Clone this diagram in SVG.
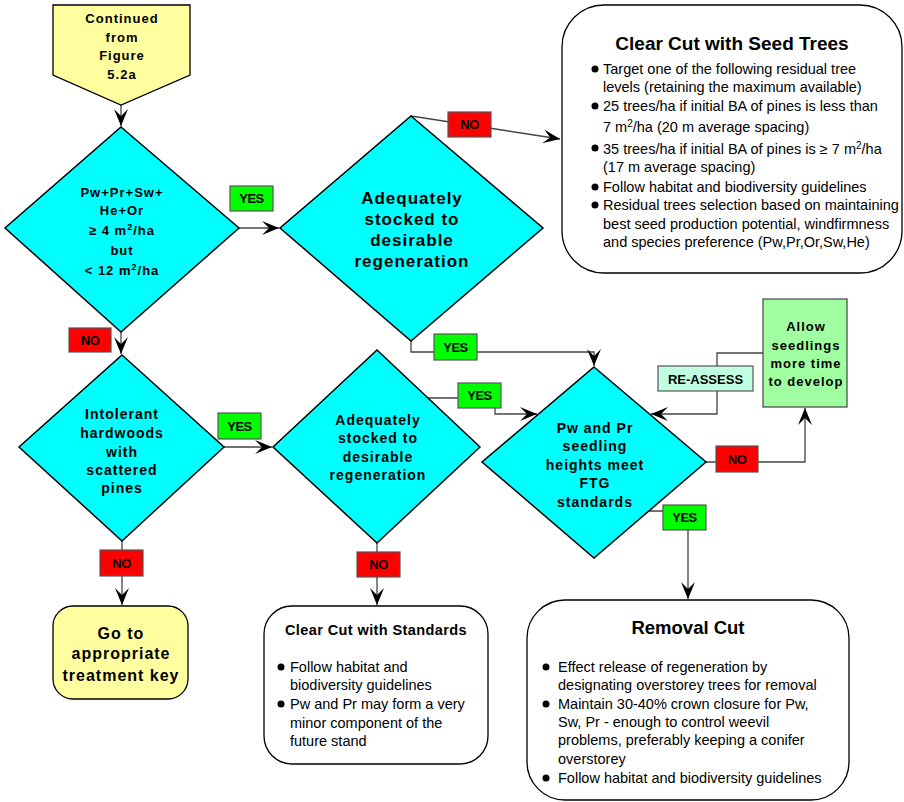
<svg xmlns="http://www.w3.org/2000/svg" width="904" height="802" viewBox="0 0 904 802">
  <defs>
    <marker id="arrow" markerUnits="userSpaceOnUse" markerWidth="20" markerHeight="18" viewBox="-19 -9 20 18" refX="0" refY="0" orient="auto">
      <path d="M0,0 L-17,-7 L-10,0 L-17,7 Z" fill="#000"/>
    </marker>
  </defs>
  <style>
    text { font-family: "Liberation Sans", Arial, sans-serif; fill: #000; }
    .dia { fill: #00FFFF; stroke: #000; stroke-width: 1.5; }
    .start { fill: #FFFFA0; stroke: #000; stroke-width: 1.3; }
    .box { fill: #FFFFFF; stroke: #000; stroke-width: 1.3; }
    .conn path { fill: none; stroke: #444; stroke-width: 1.3; }
    .yes { fill: #00FF00; stroke: #555; stroke-width: 1.2; }
    .no { fill: #FF0000; stroke: #555; stroke-width: 1.2; }
    .lbl { font-size: 13px; font-weight: bold; text-anchor: middle; letter-spacing: -0.5px; }
    .dt { font-weight: bold; text-anchor: middle; letter-spacing: 1px; }
    .title { font-weight: bold; text-anchor: middle; }
    .body { font-size: 14.5px; }
  </style>

  <!-- connectors -->
  <g id="connectors" class="conn">
    <path d="M121,105 L121,126" marker-end="url(#arrow)"/>
    <path d="M239,228 L279,228" marker-end="url(#arrow)"/>
    <path d="M411,116 L560,139" marker-end="url(#arrow)"/>
    <path d="M121,332 L121,354" marker-end="url(#arrow)"/>
    <path d="M224,447 L272,447" marker-end="url(#arrow)"/>
    <path d="M411,341 L411,352 L594,352 L594,366" marker-end="url(#arrow)"/>
    <path d="M428,398 L495,398 L495,414 L537,414" marker-end="url(#arrow)"/>
    <path d="M763,353 L717,353 L717,414 L651,414" marker-end="url(#arrow)"/>
    <path d="M706,462 L805,462 L805,408" marker-end="url(#arrow)"/>
    <path d="M649,511 L688,511 L688,599" marker-end="url(#arrow)"/>
    <path d="M122,541 L122,605" marker-end="url(#arrow)"/>
    <path d="M377,543 L377,605" marker-end="url(#arrow)"/>
  </g>

  <!-- start: continued from previous figure -->
  <g id="start">
    <polygon class="start" points="53,5 190,5 190,75 121,105 53,75"/>
    <text class="dt" font-size="13" x="122" y="23">Continued</text>
    <text class="dt" font-size="13" x="122" y="42">from</text>
    <text class="dt" font-size="13" x="122" y="60">Figure</text>
    <text class="dt" font-size="13" x="122" y="79">5.2a</text>
  </g>

  <!-- decision: basal area -->
  <g id="d-basal-area">
    <polygon class="dia" points="121,127 239,228 121,332 5,228"/>
    <text class="dt" font-size="13" letter-spacing="0.3" x="122" y="197">Pw+Pr+Sw+</text>
    <text class="dt" font-size="13" letter-spacing="0.3" x="122" y="215">He+Or</text>
    <text class="dt" font-size="13" letter-spacing="0.3" x="122" y="235">≥ 4 m<tspan font-size="9" dy="-5">2</tspan><tspan dy="5">/ha</tspan></text>
    <text class="dt" font-size="13" letter-spacing="0.3" x="122" y="255">but</text>
    <text class="dt" font-size="13" letter-spacing="0.3" x="122" y="275">&lt; 12 m<tspan font-size="9" dy="-5">2</tspan><tspan dy="5">/ha</tspan></text>
  </g>

  <!-- decision: stocking (upper) -->
  <g id="d-stocked-upper">
    <polygon class="dia" points="411,116 543,228 411,341 280,228"/>
    <text class="dt" font-size="17" x="412" y="204">Adequately</text>
    <text class="dt" font-size="17" x="412" y="225">stocked to</text>
    <text class="dt" font-size="17" x="412" y="246">desirable</text>
    <text class="dt" font-size="17" x="412" y="267">regeneration</text>
  </g>

  <!-- decision: intolerant hardwoods -->
  <g id="d-intolerant">
    <polygon class="dia" points="122,355 224,447 122,541 19,447"/>
    <text class="dt" font-size="14" x="122" y="419">Intolerant</text>
    <text class="dt" font-size="14" x="122" y="438">hardwoods</text>
    <text class="dt" font-size="14" x="122" y="457">with</text>
    <text class="dt" font-size="14" x="122" y="475">scattered</text>
    <text class="dt" font-size="14" x="122" y="493">pines</text>
  </g>

  <!-- decision: stocking (lower) -->
  <g id="d-stocked-lower">
    <polygon class="dia" points="377,350 480,447 377,543 273,447"/>
    <text class="dt" font-size="14" x="378" y="425">Adequately</text>
    <text class="dt" font-size="14" x="378" y="443">stocked to</text>
    <text class="dt" font-size="14" x="378" y="462">desirable</text>
    <text class="dt" font-size="14" x="378" y="480">regeneration</text>
  </g>

  <!-- decision: seedling heights -->
  <g id="d-heights">
    <polygon class="dia" points="594,367 706,462 594,558 482,462"/>
    <text class="dt" font-size="14" x="595" y="433">Pw and Pr</text>
    <text class="dt" font-size="14" x="595" y="451">seedling</text>
    <text class="dt" font-size="14" x="595" y="470">heights meet</text>
    <text class="dt" font-size="14" x="595" y="488">FTG</text>
    <text class="dt" font-size="14" x="595" y="507">standards</text>
  </g>

  <!-- outcome: clear cut with seed trees -->
  <g id="clear-cut-seed-trees">
    <rect class="box" x="562" y="5" width="340" height="268" rx="42" ry="42"/>
    <text class="title" font-size="19" x="732" y="50">Clear Cut with Seed Trees</text>
    <g class="body">
      <circle cx="595" cy="69" r="3.5"/>
      <text x="603" y="74">Target one of the following residual tree</text>
      <text x="603" y="92">levels (retaining the maximum available)</text>
      <circle cx="595" cy="106" r="3.5"/>
      <text x="603" y="111">25 trees/ha if initial BA of pines is less than</text>
      <text x="603" y="132">7 m<tspan font-size="10" dy="-5">2</tspan><tspan dy="5">/ha (20 m average spacing)</tspan></text>
      <circle cx="595" cy="148" r="3.5"/>
      <text x="603" y="154">35 trees/ha if initial BA of pines is ≥ 7 m<tspan font-size="10" dy="-5">2</tspan><tspan dy="5">/ha</tspan></text>
      <text x="603" y="172">(17 m average spacing)</text>
      <circle cx="595" cy="187" r="3.5"/>
      <text x="603" y="192">Follow habitat and biodiversity guidelines</text>
      <circle cx="595" cy="205" r="3.5"/>
      <text x="603" y="210">Residual trees selection based on maintaining</text>
      <text x="603" y="229">best  seed production potential, windfirmness</text>
      <text x="603" y="247">and species preference (Pw,Pr,Or,Sw,He)</text>
    </g>
  </g>

  <!-- outcome: allow more time -->
  <g id="allow-time">
    <rect x="763" y="299" width="84" height="108" fill="#A0FFA0" stroke="#444" stroke-width="1.2"/>
    <text class="dt" font-size="13" x="806" y="331">Allow</text>
    <text class="dt" font-size="13" x="806" y="350">seedlings</text>
    <text class="dt" font-size="13" x="806" y="368">more time</text>
    <text class="dt" font-size="13" x="806" y="386">to develop</text>
  </g>

  <!-- re-assess tag -->
  <g id="re-assess">
    <rect x="658" y="366" width="95" height="25" fill="#C0FFE0" stroke="#555" stroke-width="1.2"/>
    <text x="705.5" y="383.5" font-size="13" text-anchor="middle" fill="#111" style="font-weight:600">RE-ASSESS</text>
  </g>

  <!-- outcome: other treatment key -->
  <g id="treatment-key">
    <rect class="start" x="53" y="606" width="135" height="93" rx="20" ry="20"/>
    <text class="dt" font-size="16" x="121" y="639">Go to</text>
    <text class="dt" font-size="16" x="121" y="659">appropriate</text>
    <text class="dt" font-size="16" x="121" y="681">treatment key</text>
  </g>

  <!-- outcome: clear cut with standards -->
  <g id="clear-cut-standards">
    <rect class="box" x="264" y="606" width="224" height="158" rx="28" ry="28"/>
    <text class="title" font-size="14.5" letter-spacing="0.4" x="376" y="635">Clear Cut with Standards</text>
    <g class="body">
      <circle cx="281" cy="667" r="3.5"/>
      <text x="290" y="672">Follow  habitat and</text>
      <text x="290" y="690">biodiversity guidelines</text>
      <circle cx="281" cy="704" r="3.5"/>
      <text x="290" y="709">Pw  and Pr may form a very</text>
      <text x="290" y="728">minor component of the</text>
      <text x="290" y="746">future stand</text>
    </g>
  </g>

  <!-- outcome: removal cut -->
  <g id="removal-cut">
    <rect class="box" x="527" y="600" width="322" height="200" rx="38" ry="38"/>
    <text class="title" font-size="18.5" x="688" y="634">Removal Cut</text>
    <g class="body">
      <circle cx="546" cy="667" r="3.5"/>
      <text x="558" y="672">Effect release of regeneration by</text>
      <text x="558" y="690">designating overstorey trees for removal</text>
      <circle cx="546" cy="704" r="3.5"/>
      <text x="558" y="709">Maintain 30-40% crown closure for Pw,</text>
      <text x="558" y="727">Sw, Pr - enough to control weevil</text>
      <text x="558" y="745">problems, preferably keeping a conifer</text>
      <text x="558" y="764">overstorey</text>
      <circle cx="546" cy="778" r="3.5"/>
      <text x="558" y="783">Follow  habitat and biodiversity guidelines</text>
    </g>
  </g>

  <!-- branch labels -->
  <g id="labels">
    <rect class="yes" x="230" y="186" width="43" height="25"/>
    <text class="lbl" x="251.5" y="203">YES</text>
    <rect class="no" x="448" y="112" width="43" height="25"/>
    <text class="lbl" x="469.5" y="129">NO</text>
    <rect class="no" x="69" y="328" width="42" height="24"/>
    <text class="lbl" x="90" y="345">NO</text>
    <rect class="yes" x="218" y="413" width="43" height="26"/>
    <text class="lbl" x="239.5" y="431">YES</text>
    <rect class="no" x="100" y="550" width="43" height="26"/>
    <text class="lbl" x="121.5" y="568">NO</text>
    <rect class="no" x="357" y="552" width="43" height="25"/>
    <text class="lbl" x="378.5" y="569">NO</text>
    <rect class="yes" x="434" y="334" width="43" height="26"/>
    <text class="lbl" x="455.5" y="352">YES</text>
    <rect class="yes" x="458" y="383" width="43" height="25"/>
    <text class="lbl" x="479.5" y="400">YES</text>
    <rect class="no" x="716" y="446" width="42" height="26"/>
    <text class="lbl" x="737" y="464">NO</text>
    <rect class="yes" x="663" y="505" width="43" height="25"/>
    <text class="lbl" x="684.5" y="522">YES</text>
  </g>
</svg>
